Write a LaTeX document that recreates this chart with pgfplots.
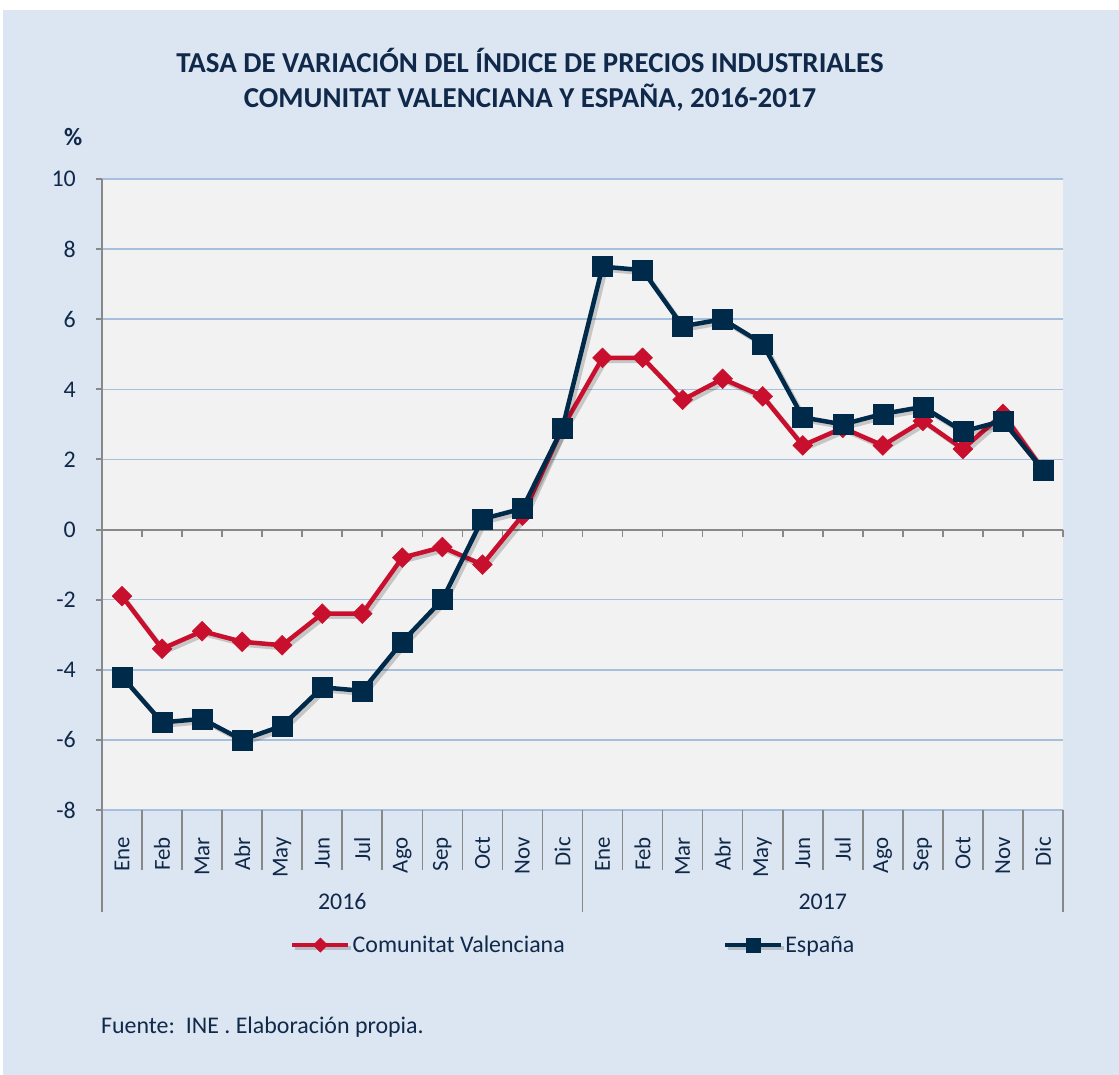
\documentclass[border=0pt]{standalone}
\usepackage{pgfplots}
\pgfplotsset{compat=1.18}
\usepackage{fontspec}
\setmainfont{Carlito}
\definecolor{bgblue}{HTML}{DCE6F2}
\definecolor{plotgray}{HTML}{F2F2F2}
\definecolor{gridblue}{HTML}{A7BFDE}
\definecolor{axisgray}{HTML}{888888}
\definecolor{cvred}{HTML}{C8102E}
\definecolor{esnavy}{HTML}{002A4A}
\definecolor{txtnavy}{HTML}{10294A}
\begin{document}
\begin{tikzpicture}[x=1bp,y=1bp]
\useasboundingbox (0,0) rectangle (1119,-1075);
\fill[white] (0,0) rectangle (1119,-1075);
\fill[bgblue] (3,-10) rectangle (1119,-1075);
\node[anchor=base, font=\bfseries\fontsize{29}{34}\selectfont, text=txtnavy] at (530,-72) {TASA DE VARIACIÓN DEL ÍNDICE DE PRECIOS INDUSTRIALES};
\node[anchor=base, font=\bfseries\fontsize{29}{34}\selectfont, text=txtnavy] at (530,-107) {COMUNITAT VALENCIANA Y ESPAÑA, 2016-2017};
\node[anchor=base west, inner sep=0pt, font=\bfseries\fontsize{25}{30}\selectfont, text=txtnavy] at (64,-145) {\%};
\node[anchor=base west, inner sep=0pt, font=\fontsize{24}{28}\selectfont, text=txtnavy] at (101,-1033) {Fuente:\ \ INE . Elaboración propia.};
\begin{axis}[
  at={(102bp,-810bp)}, anchor=south west,
  width=961bp, height=631bp, scale only axis,
  xmin=-0.5, xmax=23.5, ymin=-8, ymax=10,
  clip=false,
  axis background/.style={fill=plotgray},
  axis y line*=left, axis x line*=bottom,
  y axis line style={draw=axisgray, line width=2bp},
  x axis line style={draw=none},
  ytick={-8,-6,...,10},
  ymajorgrids, grid style={draw=gridblue, line width=1.6bp},
  ytick style={draw=axisgray, line width=2bp},
  tick align=outside, major tick length=6bp,
  /pgf/number format/assume math mode=true,
  yticklabel style={font=\fontsize{24}{28}\selectfont, text=txtnavy, inner sep=0pt, xshift=-20bp},
  xtick={0,...,23},
  xtick style={draw=none},
  xticklabels={Ene,Feb,Mar,Abr,May,Jun,Jul,Ago,Sep,Oct,Nov,Dic,Ene,Feb,Mar,Abr,May,Jun,Jul,Ago,Sep,Oct,Nov,Dic},
  xticklabel style={yshift=-21bp, rotate=90, anchor=east, inner sep=0pt, font=\fontsize{23}{28}\selectfont, text=txtnavy},
  legend columns=2,
  legend style={draw=none, fill=none, at={(0.1956,-0.214)}, anchor=west, inner sep=0pt,
     font=\fontsize{24}{28}\selectfont, text=txtnavy,
     nodes={inner sep=2bp},
     /tikz/every even column/.append style={column sep=156bp}},
  legend image code/.code={\draw[mark repeat=2,mark phase=2,#1, every mark/.append style={scale=0.72}] plot coordinates {(0bp,0bp) (28bp,0bp) (56bp,0bp)};},
]
% zero line and category ticks
\draw[axisgray, line width=2bp] (axis cs:-0.5,0) -- (axis cs:23.5,0);
\pgfplotsinvokeforeach{0.5,1.5,...,23.5}{
  \draw[axisgray, line width=1.6bp] (axis cs:#1,0) -- ([yshift=-7bp]axis cs:#1,0);
}
% category separators
\pgfplotsinvokeforeach{0.5,1.5,...,10.5,12.5,13.5,...,22.5}{
  \draw[axisgray, line width=1.6bp] (axis cs:#1,-8) -- ([yshift=-60bp]axis cs:#1,-8);
}
\pgfplotsinvokeforeach{-0.5,11.5,23.5}{
  \draw[axisgray, line width=1.6bp] (axis cs:#1,-8) -- ([yshift=-102bp]axis cs:#1,-8);
}
\node[font=\fontsize{24}{28}\selectfont, text=txtnavy, anchor=base] at ([yshift=-99bp]axis cs:5.5,-8) {2016};
\node[font=\fontsize{24}{28}\selectfont, text=txtnavy, anchor=base] at ([yshift=-99bp]axis cs:17.5,-8) {2017};

\addplot[cvred, line width=4.5bp, mark=square*, mark size=7bp,
  mark options={solid, rotate=45, line width=0.5bp, fill=cvred},
  preaction={draw=black, opacity=0.18, line width=4.5bp, transform canvas={shift={(3bp,-3bp)}}}]
  coordinates {(0,-1.9) (1,-3.4) (2,-2.9) (3,-3.2) (4,-3.3) (5,-2.4) (6,-2.4) (7,-0.8) (8,-0.5) (9,-1.0) (10,0.4) (11,2.9)
  (12,4.9) (13,4.9) (14,3.7) (15,4.3) (16,3.8) (17,2.4) (18,2.9) (19,2.4) (20,3.1) (21,2.3) (22,3.3) (23,1.7)};
\addlegendentry{Comunitat Valenciana}
\addplot[esnavy, line width=4.5bp, mark=square*, mark size=10bp,
  mark options={solid, line width=0.5bp, fill=esnavy},
  preaction={draw=black, opacity=0.18, line width=4.5bp, transform canvas={shift={(3bp,-3bp)}}}]
  coordinates {(0,-4.2) (1,-5.5) (2,-5.4) (3,-6.0) (4,-5.6) (5,-4.5) (6,-4.6) (7,-3.2) (8,-2.0) (9,0.3) (10,0.6) (11,2.9)
  (12,7.5) (13,7.4) (14,5.8) (15,6.0) (16,5.3) (17,3.2) (18,3.0) (19,3.3) (20,3.5) (21,2.8) (22,3.1) (23,1.7)};
\addlegendentry{España}
\end{axis}
\end{tikzpicture}
\end{document}
